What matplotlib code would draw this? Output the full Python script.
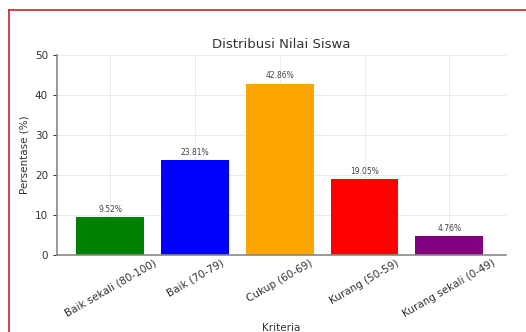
import matplotlib
matplotlib.use("Agg")
import matplotlib.pyplot as plt
from matplotlib.lines import Line2D

kriteria = ["Baik sekali (80-100)", "Baik (70-79)", "Cukup (60-69)",
            "Kurang (50-59)", "Kurang sekali (0-49)"]
persentase = [9.52, 23.81, 42.86, 19.05, 4.76]
warna = ["green", "blue", "orange", "red", "purple"]

fig = plt.figure(figsize=(5.26, 3.32), dpi=100, facecolor="white")
ax = fig.add_axes([57 / 526, 1 - 255 / 332, (506 - 57) / 526, 200 / 332])

bars = ax.bar(range(len(kriteria)), persentase, width=0.8, color=warna, zorder=2)
for b, v in zip(bars, persentase):
    ax.text(b.get_x() + b.get_width() / 2, v + 0.8, f"{v:.2f}%",
            ha="center", va="bottom", fontsize=5.5, color="#444444")

ax.set_xlim(-0.63, 4.67)
ax.set_ylim(0, 50)
ax.set_yticks([0, 10, 20, 30, 40, 50])
ax.set_xticks(range(len(kriteria)))
ax.set_xticklabels(kriteria, rotation=30, ha="center", fontsize=7.5, color="#333333")
ax.tick_params(axis="y", labelsize=7.5, colors="#333333", length=3)
ax.tick_params(axis="x", length=0, pad=2)
ax.grid(True, color="#e8e8e8", linewidth=0.6, zorder=0)
for s in ["top", "right"]:
    ax.spines[s].set_visible(False)
for s in ["left", "bottom"]:
    ax.spines[s].set_color("#888888")
    ax.spines[s].set_linewidth(1.2)

ax.set_title("Distribusi Nilai Siswa", fontsize=9.5, color="#333333", pad=5)
ax.set_xlabel("Kriteria", fontsize=7.5, color="#333333", labelpad=3)
ax.set_ylabel("Persentase (%)", fontsize=7.5, color="#333333")

# red frame around the screenshot
fig.add_artist(Line2D([9 / 526, 9 / 526], [0, 1 - 9.5 / 332], color="#c82828", linewidth=1.2))
fig.add_artist(Line2D([9 / 526, 1], [1 - 9.5 / 332, 1 - 9.5 / 332], color="#c82828", linewidth=1.2))

fig.savefig("out.png", dpi=100)
